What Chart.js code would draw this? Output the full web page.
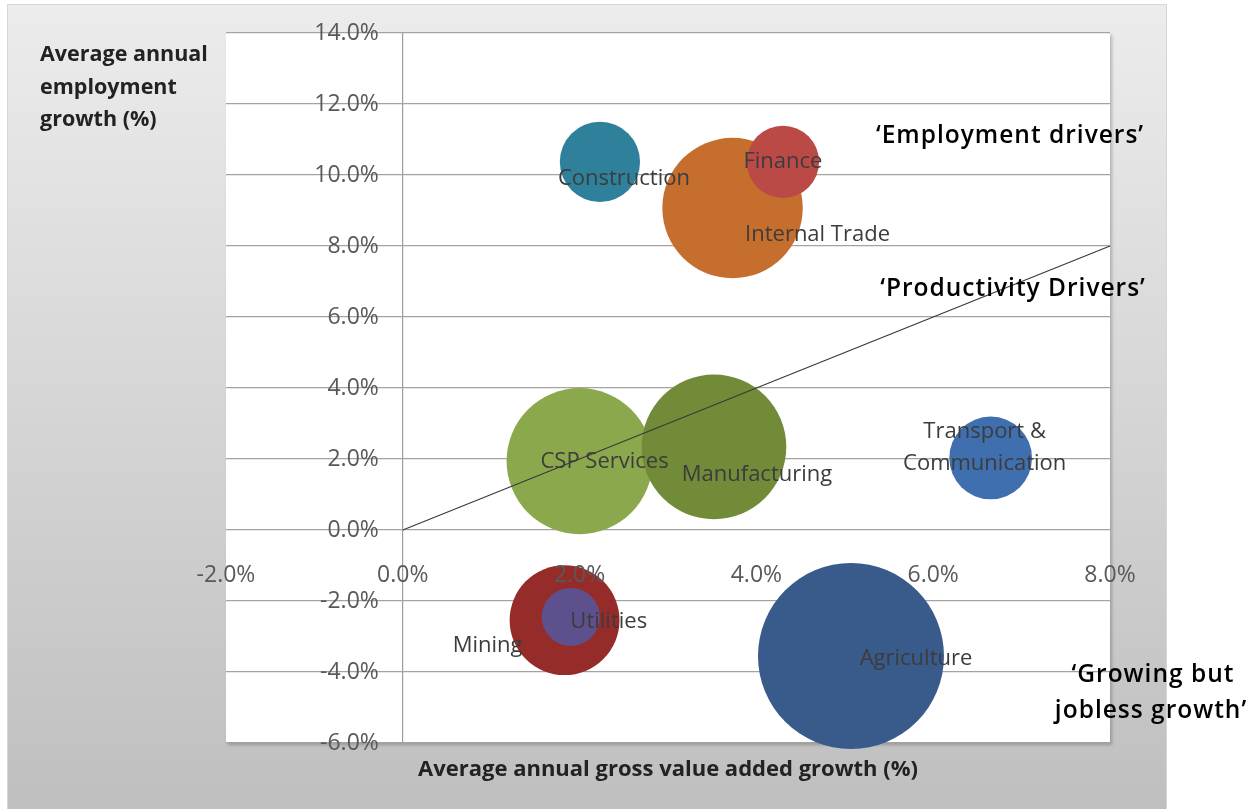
<!DOCTYPE html>
<html>
<head>
<meta charset="utf-8">
<script src="https://cdn.jsdelivr.net/npm/chart.js@4.4.1/dist/chart.umd.min.js"></script>
<style>
  html, body { margin: 0; padding: 0; background: #ffffff; }
  canvas { display: block; }
</style>
</head>
<body>
<canvas id="chart" width="1258" height="809"></canvas>
<script>
// ---- data ----
const sectors = ['CSP Services', 'Manufacturing', 'Mining', 'Utilities', 'Internal Trade',
                 'Finance', 'Construction', ['Transport &', 'Communication'], 'Agriculture'];
const gvaGrowth        = [2.00, 3.52, 1.83, 1.90, 3.73, 4.30, 2.23, 6.65, 5.07];   // x, %
const employmentGrowth = [1.94, 2.34, -2.54, -2.45, 9.07, 10.37, 10.37, 2.03, -3.55]; // y, %
const bubbleSize       = [53, 52, 30, 8.4, 49, 13, 16, 17, 86];                    // relative weight
const xTicks = [-2, 0, 2, 4, 6, 8];
const yTicks = [-6, -4, -2, 0, 2, 4, 6, 8, 10, 12, 14];
const diagonalX = [0, 8];
const diagonalY = [0, 8];
const xTitle = 'Average annual gross value added growth (%)';
const yTitle = ['Average annual', 'employment', 'growth (%)'];
const notes = ['\u2018Employment drivers\u2019', '\u2018Productivity Drivers\u2019', '\u2018Growing but', 'jobless growth\u2019'];

// ---- styles ----
const bubbleColors = ['#8ba94c', '#718b38', '#962c2a', '#5e4f8d', '#c56e2d',
                      '#bb4a47', '#2f819b', '#3f6fae', '#385b8b'];
const labelOffsets = [[25, 1], [43, 28], [-77, 26], [38, 5], [85, 27], [0, 0], [24, 17], [-6, -10], [65, 3]];
const noteLayout = [[1010, 143], [1013, 296], [1153, 682], [1151, 718]];

const maxSize = Math.max(...bubbleSize);

const decor = {
  id: 'decor',
  beforeDraw(chart) {
    const { ctx, chartArea: a } = chart;
    ctx.save();
    const g = ctx.createLinearGradient(0, 4, 0, 809);
    g.addColorStop(0, '#ececec');
    g.addColorStop(1, '#bfbfbf');
    ctx.fillStyle = g;
    ctx.fillRect(7, 4, 1160, 805);
    ctx.strokeStyle = '#d6d6d6';
    ctx.lineWidth = 1;
    ctx.strokeRect(7.5, 4.5, 1159, 810);
    ctx.shadowColor = 'rgba(0,0,0,0.22)';
    ctx.shadowBlur = 3;
    ctx.shadowOffsetX = 2;
    ctx.shadowOffsetY = 2;
    ctx.fillStyle = '#ffffff';
    ctx.fillRect(a.left, a.top, a.right - a.left, a.bottom - a.top);
    ctx.restore();
  },
  afterDraw(chart) {
    const { ctx } = chart;
    const xs = chart.scales.x, ys = chart.scales.y;
    ctx.save();
    // tick labels, placed along the axes crossing at 0
    ctx.fillStyle = '#595959';
    ctx.font = '23px "Open Sans"';
    ctx.textBaseline = 'middle';
    ctx.textAlign = 'right';
    const x0 = xs.getPixelForValue(0);
    yTicks.forEach(v => ctx.fillText(v.toFixed(1) + '%', x0 - 24, ys.getPixelForValue(v)));
    ctx.textAlign = 'center';
    const y0 = ys.getPixelForValue(0);
    xTicks.forEach(v => ctx.fillText(v.toFixed(1) + '%', xs.getPixelForValue(v), y0 + 45));

    // bubble labels
    ctx.fillStyle = '#3c3c3c';
    ctx.font = '22px "Open Sans"';
    sectors.forEach((name, i) => {
      const px = xs.getPixelForValue(gvaGrowth[i]) + labelOffsets[i][0];
      const py = ys.getPixelForValue(employmentGrowth[i]) + labelOffsets[i][1];
      const lines = Array.isArray(name) ? name : [name];
      const lh = 32;
      lines.forEach((t, k) => ctx.fillText(t, px, py + (k - (lines.length - 1) / 2) * lh));
    });

    // axis titles
    ctx.fillStyle = '#222222';
    ctx.font = 'bold 21.5px "Open Sans"';
    ctx.textBaseline = 'alphabetic';
    ctx.textAlign = 'left';
    yTitle.forEach((t, k) => ctx.fillText(t, 40, 61 + k * 32.5));
    ctx.textAlign = 'center';
    ctx.font = 'bold 22px "Open Sans"';
    ctx.fillText(xTitle, (chart.chartArea.left + chart.chartArea.right) / 2, 776);

    // quadrant notes
    ctx.fillStyle = '#000000';
    ctx.font = '600 24.5px "Open Sans"';
    if ('letterSpacing' in ctx) ctx.letterSpacing = '1px';
    notes.forEach((t, k) => ctx.fillText(t, noteLayout[k][0], noteLayout[k][1]));
    ctx.restore();
  }
};

new Chart(document.getElementById('chart'), {
  type: 'bubble',
  data: {
    datasets: [
      {
        type: 'scatter',
        label: 'Diagonal',
        data: diagonalX.map((x, i) => ({ x, y: diagonalY[i] })),
        showLine: true,
        borderColor: '#3a3a3a',
        borderWidth: 1.2,
        pointRadius: 0,
        order: 0,
        clip: false
      },
      {
        label: 'Sectors',
        data: gvaGrowth.map((x, i) => ({ x, y: employmentGrowth[i] })),
        backgroundColor: bubbleColors,
        borderWidth: 0,
        radius: (c) => {
          const a = c.chart.chartArea;
          const h = a ? a.bottom - a.top : 710;
          return h * 0.131 * Math.sqrt(bubbleSize[c.dataIndex] / maxSize);
        },
        order: 1,
        clip: false
      }
    ]
  },
  options: {
    responsive: false,
    animation: false,
    events: [],
    layout: { autoPadding: false, padding: { left: 226, top: 33, right: 148, bottom: 66 } },
    plugins: { legend: { display: false }, tooltip: { enabled: false } },
    scales: {
      x: {
        type: 'linear', min: -2, max: 8,
        afterBuildTicks: s => { s.ticks = xTicks.map(v => ({ value: v })); },
        ticks: { display: false },
        border: { display: false },
        grid: {
          drawTicks: false,
          color: c => (c.tick && c.tick.value === 0) ? '#9c9c9c' : 'rgba(0,0,0,0)',
          lineWidth: 1.2
        }
      },
      y: {
        type: 'linear', min: -6, max: 14,
        afterBuildTicks: s => { s.ticks = yTicks.map(v => ({ value: v })); },
        ticks: { display: false },
        border: { display: false },
        grid: { drawTicks: false, color: '#a3a3a3', lineWidth: 1.2 }
      }
    }
  },
  plugins: [decor]
});
</script>
</body>
</html>
